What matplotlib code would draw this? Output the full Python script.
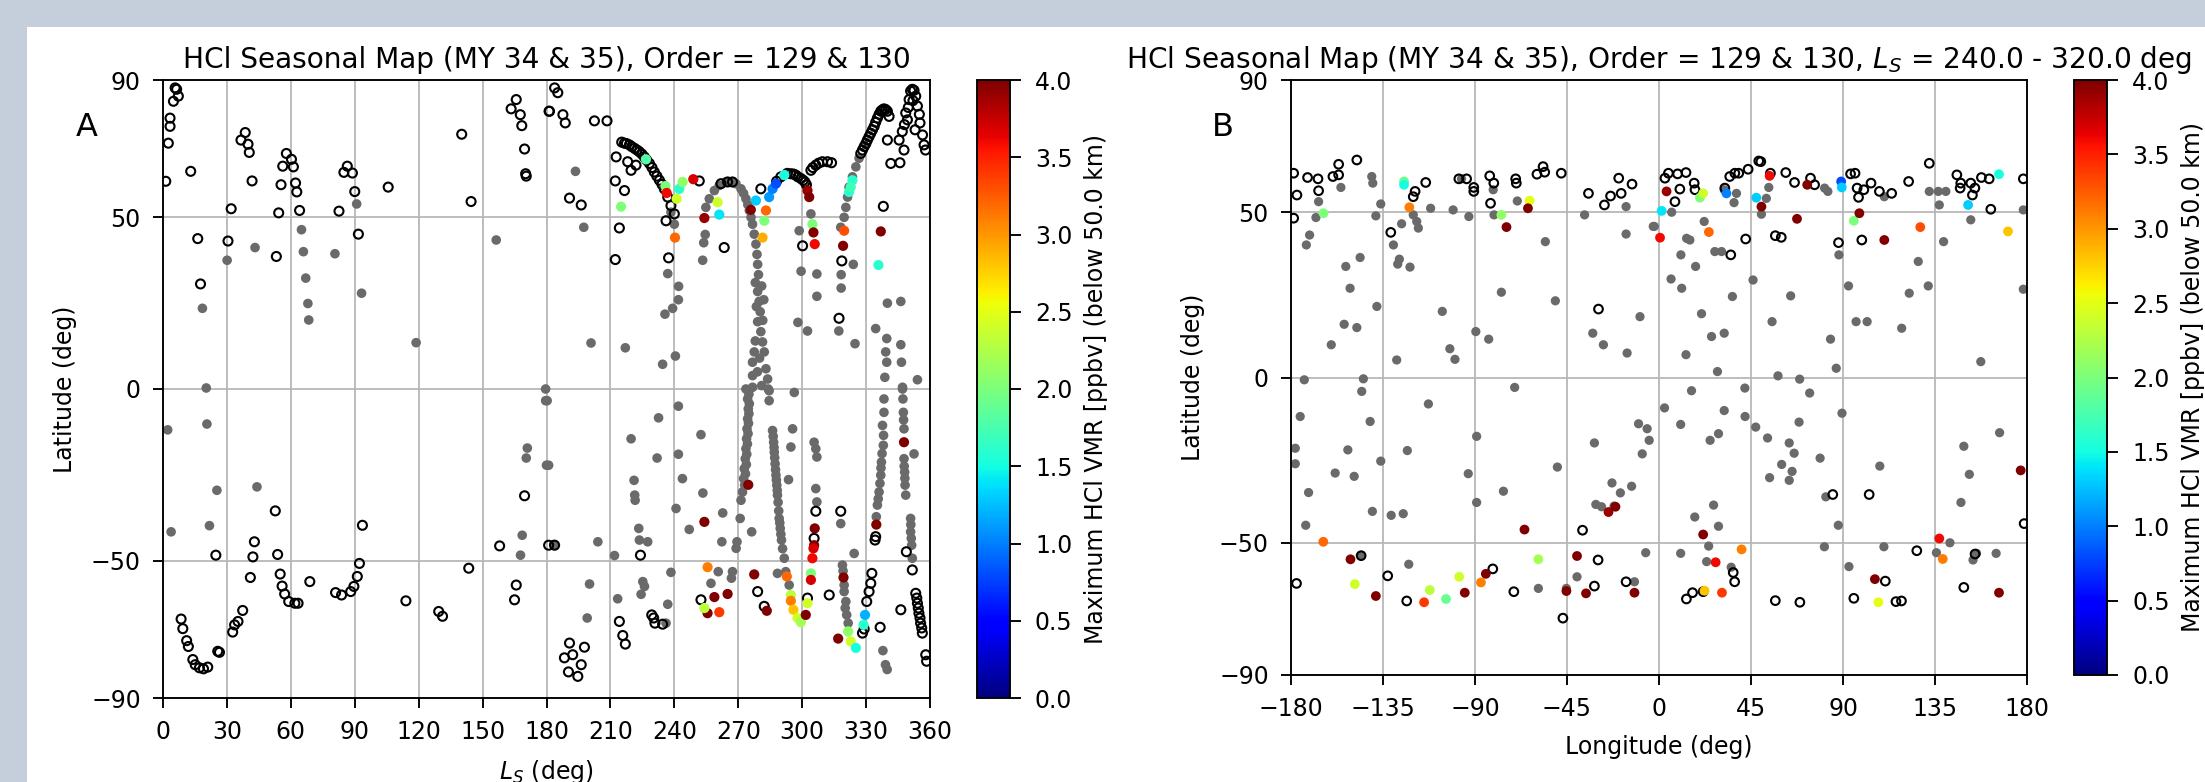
import numpy as np
import matplotlib
matplotlib.use("Agg")
import matplotlib.pyplot as plt
from matplotlib.patches import Rectangle

# ---------------- Panel A data (Ls, latitude) ----------------
a_open = [
    (5.7,87.7),(6.4,87.3),(7.2,85.3),(4.9,83.8),(3.3,78.9),(3.3,76.5),(2.5,71.6),(1.3,60.5),(13.0,63.4),
    (38.6,74.7),(36.6,72.5),(39.9,71.3),(40.5,68.9),(41.8,60.6),(57.9,68.6),(60.3,66.9),(56.2,64.9),
    (61.2,64.7),(55.4,59.5),(62.2,60.0),(62.8,57.4),(54.3,51.3),(64.1,52.0),(32.0,52.5),(16.3,43.8),
    (30.5,43.1),(53.2,38.6),(17.6,30.6),(86.5,64.9),(84.9,63.1),(88.9,62.9),(90.0,57.5),(82.6,51.8),
    (91.7,45.1),(105.7,58.8),(140.2,74.2),(144.6,54.6),(165.8,84.3),(163.4,81.6),(167.7,79.9),(168.4,76.7),
    (169.7,69.9),(170.2,62.7),(170.5,62.0),(181.2,80.9),
    (183.8,87.7),(185.3,86.3),(181.4,80.9),(187.7,79.9),(188.8,77.5),(202.5,78.1),(208.4,78.1),(190.8,55.6),
    (196.3,53.6),(212.7,67.6),(212.3,60.6),(216.6,57.8),(214.2,46.9),(212.3,37.7),(236.1,49.0),(237.3,38.2),
    (263.4,41.2),
    (215.3,71.9),(216.6,71.6),(218.9,71.1),(221.3,70.1),(223.6,69.1),(225.9,67.6),(228.3,65.7),(230.6,63.2),
    (233.0,60.8),(235.3,58.3),(236.9,55.9),(238.4,53.4),(240.0,51.0),(218.1,66.2),(219.7,63.7),(222.0,65.2),
    (251.7,60.6),(217.5,71.5),(220.0,70.6),(222.5,69.6),(224.8,68.4),(227.0,66.7),(229.5,64.5),(231.8,62.0),
    (234.2,59.6),
    (261.9,59.8),(265.0,60.3),(267.3,60.3),(280.6,58.3),
    (288.0,60.5),(290.0,61.8),(294.7,62.7),(297.0,62.3),(299.4,61.3),(301.3,60.3),(293.0,62.8),(296.0,62.6),
    (298.0,61.8),(300.5,60.8),(302.0,59.5),
    (304.1,63.7),(306.4,65.2),(309.5,66.2),(311.9,66.2),(313.8,65.9),(305.0,64.5),(307.8,65.8),
    (300.2,41.7),(318.6,37.3),(317.3,20.6),(338.1,53.2),
    (327.5,68.6),(329.1,70.6),(330.6,72.5),(332.2,74.5),(333.8,76.5),(335.3,78.9),(336.9,80.9),(338.4,81.6),
    (340.0,80.9),(340.8,79.4),(328.3,69.6),(329.9,71.5),(331.4,73.5),(333.0,75.5),(334.5,77.7),(336.1,80.0),
    (337.6,81.3),(339.2,81.4),
    (340.0,72.5),(341.6,65.7),(345.9,65.9),(345.5,72.5),(347.0,75.0),(348.6,80.4),(350.2,84.3),(350.9,86.8),
    (351.7,87.3),(353.3,85.3),(354.1,82.4),(353.0,75.5),(355.3,77.5),(357.2,71.1),(357.9,69.6),(349.4,78.4),
    (347.8,69.6),(352.5,87.0),(349.8,82.0),(355.0,80.0),(356.5,74.0),(352.0,84.0),(348.0,77.0),
    (24.8,-48.4),(52.7,-35.5),(42.9,-44.5),(42.2,-48.9),(41.0,-54.9),(53.8,-48.2),(55.0,-53.9),(55.9,-57.4),
    (57.1,-59.7),(59.0,-61.9),(61.9,-62.4),(63.4,-62.4),(68.9,-56.1),(81.0,-59.3),(83.8,-60.0),(88.1,-59.0),
    (89.6,-57.5),(91.2,-54.6),(92.2,-50.8),(93.6,-39.7),(8.5,-67.0),(9.3,-69.8),(11.1,-73.3),(11.9,-75.0),
    (14.0,-78.8),(15.1,-80.3),(17.1,-81.2),(19.0,-81.5),(21.0,-81.0),(25.7,-76.4),(26.5,-76.7),(32.7,-70.8),
    (33.6,-68.7),(35.2,-67.7),(37.4,-64.5),(114.0,-61.7),(129.4,-64.8),(131.2,-66.2),(143.5,-52.2),
    (158.0,-45.7),(165.8,-57.1),(165.0,-61.4),(169.7,-31.1),(181.0,-45.5),
    (183.8,-45.5),(224.1,-48.4),(214.2,-67.7),(215.8,-71.8),(217.0,-74.3),(229.4,-65.8),(230.3,-66.7),
    (230.9,-68.2),(234.5,-68.5),(252.5,-61.4),(282.2,-63.3),(279.1,-59.0),(302.5,-60.9),(306.4,-35.6),
    (305.6,-43.5),(318.1,-35.6),(312.7,-60.0),(328.3,-71.1),(329.1,-69.9),(330.3,-61.9),(331.4,-59.0),
    (332.2,-56.6),(332.7,-53.7),(336.6,-69.4),(346.3,-64.3),(334.5,-43.0),(334.2,-44.0),(348.9,-47.4),
    (351.7,-52.7),(353.3,-59.5),(353.8,-60.9),(354.1,-62.4),(354.5,-63.8),(354.8,-65.3),(355.3,-66.7),
    (355.6,-68.2),(356.1,-69.6),(356.4,-71.1),(358.0,-77.4),(358.4,-79.3),(190.8,-74.0),(188.4,-78.3),
    (192.3,-77.4),(190.3,-82.4),(194.7,-83.7),(197.8,-75.2),(196.3,-80.3),
]

a_gray = [
    (65.0,46.4),(65.9,40.0),(43.2,41.2),(30.1,37.5),(67.0,32.3),(68.0,24.9),(68.4,20.1),(80.7,39.4),
    (90.9,53.9),(93.2,27.9),(18.5,23.5),(20.3,0.3),(118.8,13.5),(156.4,43.4),(179.6,0.0),
    (193.6,63.4),(197.5,47.1),(200.9,13.4),(217.0,12.0),(234.5,7.2),(240.5,9.6),(235.6,21.8),(239.2,23.5),
    (241.9,26.0),(242.0,29.9),(236.9,33.6),(253.8,42.6),(253.3,37.5),(254.5,45.0),(238.4,51.5),(240.0,48.0),
    (254.8,52.9),(256.4,55.4),(258.8,57.8),(261.1,59.3),(264.2,60.3),(268.9,59.8),(271.3,58.3),(273.6,55.4),
    (275.2,52.0),(276.7,48.0),(277.5,45.1),(278.3,42.2),(278.8,39.2),(279.1,36.3),(279.5,33.3),(266.5,60.2),
    (272.5,57.0),(274.5,53.7),(276.0,50.0),
    (279.1,28.4),(279.8,25.5),(280.3,22.5),(279.1,19.6),(280.6,16.7),(281.4,13.7),(277.5,10.8),(282.2,10.8),
    (276.7,7.8),(283.0,5.9),(276.7,3.9),(283.8,2.9),(276.7,0.5),(284.5,-0.5),(278.0,31.0),(281.0,30.0),
    (282.0,26.0),(278.5,24.0),(281.5,20.0),(278.0,14.0),(280.0,9.0),(279.0,5.0),(281.0,1.0),
    (273.6,0.0),(274.4,-2.9),(274.7,-5.8),(274.4,-8.7),(274.1,-11.6),(273.9,-14.5),(273.6,-17.4),(273.3,-20.3),
    (272.8,-23.2),(272.5,-26.1),(272.0,-30.0),(271.3,-32.4),(269.0,-46.4),(269.4,-44.5),(270.9,-37.7),
    (276.3,-41.6),(284.1,0.0),(284.5,-3.4),(275.0,-1.5),(275.2,-4.3),(275.0,-7.2),(274.8,-10.0),(274.6,-13.0),
    (274.3,-16.0),(274.0,-19.0),(273.8,-22.0),(273.4,-24.7),(273.0,-28.0),
    (295.5,-11.6),(294.7,-16.9),(293.6,-26.4),(296.3,-1.0),
    (286.1,-12.1),(286.6,-15.5),(286.9,-18.4),(287.3,-21.8),(287.7,-25.1),(288.1,-28.0),(288.4,-30.9),
    (289.2,-37.7),(289.7,-40.6),(290.3,-44.0),(291.6,-49.3),(292.3,-53.2),(293.9,-57.1),(288.4,-53.7),
    (286.4,-13.8),(286.8,-17.0),(287.1,-20.0),(287.5,-23.5),(287.9,-26.5),(288.3,-29.5),(288.7,-33.0),
    (289.0,-35.5),(289.5,-39.0),(290.0,-42.3),(290.8,-46.5),
    (306.4,-17.4),(306.9,-19.8),(306.4,-29.0),(306.9,-32.9),(305.6,-15.5),
    (318.1,-39.2),(324.4,-47.9),(318.9,-51.3),(319.7,-59.0),(320.5,-61.9),(320.9,-65.8),(321.6,-68.2),
    (319.7,-57.1),(319.2,-53.0),(320.2,-63.8),
    (338.4,-2.9),(338.4,-6.8),(337.7,-10.6),(338.1,-16.4),(337.2,-21.3),(336.9,-25.1),(336.1,-30.0),
    (335.3,-33.8),(334.8,-37.2),(338.2,-13.5),(337.5,-18.8),(337.0,-23.0),(336.5,-27.5),(335.7,-32.0),
    (337.9,-76.2),(339.1,-80.3),(339.9,-81.7),
    (347.1,0.5),(347.3,-2.9),(347.5,-6.8),(347.8,-11.6),(347.8,-20.3),(348.1,-24.2),(348.3,-28.0),
    (348.6,-30.9),(352.5,-18.9),(347.6,-9.0),(347.9,-22.5),(348.2,-26.0),
    (350.9,-37.7),(350.9,-41.6),(351.4,-45.5),(351.7,-49.3),(351.0,-39.5),(351.2,-43.5),
    (180.3,-3.4),(181.0,-22.2),(183.4,-45.3),(200.2,-56.8),(199.1,-66.7),(204.1,-44.5),(211.9,-48.5),
    (213.4,-61.1),(219.7,-14.5),(231.9,-20.1),(232.6,-8.4),(221.1,-26.6),(221.4,-30.9),(221.6,-32.4),
    (223.3,-40.6),(223.6,-44.0),(227.5,-44.5),(225.2,-56.1),(226.0,-57.5),(224.4,-59.8),(236.9,-62.7),
    (238.4,-53.4),(240.8,-34.8),(241.9,-19.0),(241.9,-5.0),(243.8,-26.1),(247.0,-40.9),(252.5,-13.3),
    (253.4,-30.3),(262.7,-36.1),(262.3,-44.5),(260.6,-53.2),(267.3,-53.2),(266.8,-55.1),(257.2,-56.6),
    (236.1,-68.2),
    (298.0,19.4),(302.5,16.9),(299.5,34.3),(306.9,33.5),(306.9,27.0),(324.0,36.3),(324.8,13.2),(318.3,33.3),
    (318.3,29.4),(317.2,16.9),(340.0,25.0),(346.3,25.5),(334.5,17.6),(339.7,14.7),(339.2,10.8),(339.7,7.8),
    (346.3,12.9),(346.6,7.8),(354.1,2.7),(338.8,3.4),(347.1,0.0),
    (319.7,50.0),(320.5,52.9),(321.3,55.9),(322.0,58.8),(323.6,61.8),(325.2,64.7),(326.7,67.2),(304.1,51.0),
    (298.6,46.1),(318.1,47.1),
    (2.2,-11.9),(20.6,-10.2),(25.3,-29.5),(44.1,-28.5),(3.8,-41.6),(21.8,-39.8),(179.6,-3.4),(171.0,-17.2),
    (170.5,-20.1),(180.0,-22.2),(168.6,-42.6),(167.8,-48.4),
]

# (Ls, latitude, max HCl VMR ppbv)
a_color = [
    (215.0,53.1,2.0),(226.7,66.9,1.8),(235.8,59.1,2.0),(236.4,57.1,3.6),(241.1,55.4,2.4),(242.3,58.3,1.6),
    (243.9,60.3,2.1),(248.9,61.1,3.7),(240.3,44.1,3.2),(254.1,49.8,3.9),(260.3,54.4,2.4),(261.1,50.8,1.4),
    (275.9,52.2,4.0),(278.3,54.9,1.3),(281.4,44.1,2.9),(282.2,49.0,2.0),(283.0,52.0,3.2),(284.5,55.9,1.1),
    (286.1,58.3,1.0),(287.7,59.8,0.8),(291.6,62.3,1.5),(302.5,57.8,3.9),(303.3,55.9,4.0),(304.8,48.0,2.0),
    (305.3,45.6,4.0),(305.9,42.2,3.6),(319.7,46.1,3.3),(319.2,41.7,4.0),(322.0,57.4,1.6),(323.6,60.8,1.6),
    (322.8,58.8,1.7),(336.9,45.9,4.0),(335.8,36.1,1.6),
    (254.1,-38.7,4.0),(255.6,-51.9,3.1),(258.8,-60.6,4.0),(255.6,-65.3,4.0),(261.1,-65.0,3.4),(265.0,-59.7,4.0),
    (254.1,-63.8,2.3),(274.7,-27.9,4.0),(277.5,-54.0,4.0),(283.4,-64.6,4.0),(292.8,-54.6,3.2),(294.7,-60.0,2.3),
    (294.7,-61.7,3.1),(295.9,-64.3,2.8),(297.8,-66.7,2.4),(299.4,-67.9,2.2),(301.7,-65.8,4.0),(302.5,-62.4,2.4),
    (305.9,-40.6,4.0),(305.6,-45.5,4.0),(305.3,-46.4,3.7),(304.8,-49.3,3.6),(304.1,-53.7,2.0),(304.1,-55.6,3.7),
    (319.4,-54.9,4.0),(316.9,-72.7,4.0),(321.6,-70.6,2.1),(322.8,-73.5,2.4),(325.2,-75.4,1.5),(329.5,-65.8,1.2),
    (328.8,-68.7,1.6),(334.8,-39.5,4.0),(347.8,-15.5,4.0),
]

# ---------------- Panel B data (longitude, latitude) ----------------
b_open = [
    (-178.7,61.8),(-177.1,55.2),(-178.7,48.2),(-171.9,60.5),(-166.8,60.1),(-166.5,56.5),(-159.5,60.8),
    (-156.7,64.5),(-156.7,61.3),(-147.8,65.8),(-119.3,56.3),(-120.2,54.7),(-114.1,59.0),(-131.2,43.9),
    (-97.9,60.1),(-94.1,60.1),(-90.6,57.5),(-90.6,56.3),(-82.8,61.0),(-80.8,58.8),(-82.4,52.7),(-70.1,60.1),
    (-69.8,58.8),(-59.7,61.5),(-56.7,63.8),(-55.9,62.1),(-47.8,61.8),(-34.5,55.7),(-26.7,52.2),(-23.7,54.9),
    (-19.7,60.3),(-18.5,55.7),(-13.2,58.5),(-29.6,20.7),
    (2.9,60.3),(4.6,61.8),(9.1,61.6),(13.2,62.0),(10.2,57.0),(7.8,53.2),(17.2,58.8),(17.6,56.8),(32.2,57.3),
    (34.6,60.8),(37.1,61.8),(39.0,61.8),(43.6,63.0),(48.8,65.5),(49.8,65.3),(54.5,61.8),(62.0,62.0),
    (66.3,59.0),(74.1,60.3),(76.1,58.3),(42.4,41.9),(35.1,37.1),(56.9,42.9),(59.8,42.4),(87.8,40.8),
    (99.2,41.6),(93.7,61.6),(95.9,61.8),(96.9,57.3),(100.2,56.8),(97.6,54.5),(103.7,58.8),(107.8,56.3),
    (113.8,55.7),(122.1,59.3),(132.2,64.8),(145.7,61.3),(147.6,58.8),(152.5,58.8),(147.3,57.3),(154.5,57.3),
    (153.3,55.2),(157.7,60.5),(161.5,60.1),(162.3,50.9),(178.2,60.1),
    (-177.3,-62.3),(-145.7,-53.9),(-132.7,-60.0),(-123.4,-67.6),(-81.3,-57.9),(-71.0,-64.8),(-47.0,-72.8),
    (-37.4,-46.2),(-29.8,-55.2),(-31.6,-63.1),(-16.1,-61.8),(13.4,-67.0),(16.4,-65.1),(36.3,-59.0),
    (37.0,-61.8),(56.9,-67.5),(68.9,-68.0),(85.0,-35.4),(102.8,-35.4),(95.3,-66.8),(110.7,-61.6),
    (115.9,-67.8),(118.6,-67.6),(126.1,-52.4),(149.1,-63.5),(154.6,-53.4),(178.6,-44.2),(21.6,-64.8),
]

b_gray = [
    (-155.6,57.5),(-166.5,53.2),(-167.8,48.4),(-170.9,43.1),(-172.5,40.1),(-140.5,60.8),(-140.0,58.8),
    (-136.1,52.5),(-138.5,48.9),(-146.2,36.3),(-153.2,33.6),(-151.1,27.0),(-138.0,21.5),(-154.0,16.1),
    (-147.8,15.1),(-160.3,9.9),(-128.3,5.3),(-125.9,46.5),(-129.9,40.1),(-127.0,35.8),(-127.8,34.3),
    (-121.8,33.4),(-120.2,49.2),(-118.5,47.2),(-117.7,45.2),(-111.7,51.2),(-100.7,50.7),(-93.0,48.7),
    (-96.6,60.1),(-81.1,56.8),(-80.7,49.2),(-69.3,53.4),(-55.6,41.1),(-77.1,25.8),(-50.7,23.2),(-106.0,20.0),
    (-102.3,8.7),(-99.8,5.5),(-89.6,13.9),(-83.3,11.6),(-36.4,49.2),(-16.1,51.7),(-16.1,43.4),(-2.8,45.7),
    (-32.4,13.4),(-27.2,9.9),(-15.6,7.4),(-9.3,18.4),(-173.5,-0.7),(-144.6,-0.4),(-145.4,-4.2),(-70.6,-3.0),
    (-2.3,45.7),(6.2,50.0),(22.1,47.2),(13.5,42.1),(15.1,41.6),(10.7,37.1),(17.9,33.6),(5.9,29.8),(11.1,27.0),
    (27.3,38.1),(30.6,38.1),(35.9,24.5),(20.8,19.3),(25.7,12.4),(31.9,13.4),(13.2,6.9),(28.6,1.8),(15.9,-4.0),
    (46.0,29.5),(42.0,-3.2),(55.3,16.9),(58.2,0.5),(68.8,-0.5),(73.7,-4.7),(64.4,24.7),(83.9,11.6),(86.7,2.8),
    (88.0,37.1),(92.7,27.7),(96.4,16.9),(101.8,16.9),(118.7,14.9),(122.4,25.5),(126.8,35.1),(131.7,27.7),
    (139.2,41.1),(152.5,47.7),(157.4,4.8),(37.9,55.7),(36.7,52.9),(53.7,57.5),(52.5,54.2),(50.1,49.4),
    (81.0,57.3),(82.6,56.3),(110.2,54.7),(132.2,56.3),(136.6,56.3),(140.3,56.3),(137.1,52.2),(178.2,50.7),
    (178.2,26.7),(31.9,56.8),
    (-175.5,-11.8),(-177.9,-21.4),(-177.9,-26.1),(-171.4,-34.8),(-172.8,-44.7),(-158.4,-28.9),(-152.2,-21.9),
    (-149.1,-29.9),(-141.3,-13.3),(-136.1,-25.3),(-140.2,-40.5),(-131.0,-41.7),(-125.1,-41.2),(-123.1,-22.1),
    (-122.4,-56.5),(-112.8,-8.0),(-93.3,-29.1),(-89.2,-17.8),(-89.2,-37.8),(-76.1,-34.4),(-49.7,-27.1),
    (-31.6,-19.8),(-30.9,-38.4),(-28.1,-39.1),(-22.0,-38.9),(-23.0,-31.9),(-18.9,-34.9),(-13.4,-32.9),
    (-10.0,-14.0),(-5.8,-15.5),(-4.8,-19.0),(-8.2,-23.1),(2.7,-9.2),(10.6,-14.2),(25.0,-19.0),(29.1,-17.0),
    (31.9,-10.0),(42.1,-11.8),(47.3,-15.0),(53.1,-18.3),(54.1,-30.3),(60.0,-26.3),(63.7,-19.8),(66.1,-22.9),
    (65.1,-28.4),(63.7,-31.1),(68.5,-13.5),(78.8,-24.4),(81.6,-36.1),(87.7,-44.7),(89.5,-10.8),(108.0,-26.8),
    (149.1,-20.8),(151.8,-29.3),(147.7,-37.8),(166.6,-16.7),(17.5,-42.2),(26.7,-38.6),(29.1,-45.0),
    (24.3,-51.0),(23.3,-55.7),(35.3,-57.4),(80.9,-51.2),(92.9,-57.2),(110.0,-51.2),(135.7,-53.0),
    (142.3,-50.0),(153.6,-55.2),(155.3,-53.2),(164.9,-53.2),(-6.5,-53.0),(10.6,-53.2),(-145.7,-53.9),
    (-59.0,-63.8),(-40.1,-60.3),(-45.3,-63.8),(-12.0,-61.8),
]

# (longitude, latitude, max HCl VMR ppbv)
b_color = [
    (-164.1,49.7,2.0),(-124.7,59.3,1.9),(-124.7,58.3,1.5),(-122.1,51.5,3.1),(-77.1,49.2,2.1),(-74.6,45.5,4.0),
    (-63.3,53.5,2.5),(-64.1,51.2,4.0),
    (1.3,50.4,1.4),(0.5,42.3,3.6),(3.7,56.3,3.9),(20.0,54.4,2.0),(21.6,55.7,2.4),(24.4,44.0,3.2),(33.0,55.7,1.0),
    (47.6,54.4,1.3),(50.1,51.7,4.0),(54.1,61.0,3.6),(67.5,48.0,4.0),(72.5,58.3,4.0),(89.1,59.3,0.8),
    (89.4,57.5,1.3),(95.3,47.4,2.0),(98.0,49.7,4.0),(110.2,41.6,4.0),(127.8,45.5,3.3),(151.2,52.2,1.3),
    (166.3,61.5,1.5),(170.7,44.2,2.8),
    (-164.2,-49.7,3.2),(-150.9,-55.0,4.0),(-148.8,-62.5,2.4),(-138.5,-66.1,4.0),(-114.9,-68.0,3.4),
    (-112.1,-64.3,2.3),(-104.2,-67.0,1.9),(-97.7,-60.3,2.4),(-95.0,-65.1,4.0),(-87.1,-62.0,3.1),
    (-84.7,-59.4,4.0),(-65.8,-46.0,4.0),(-59.0,-55.0,2.2),(-45.3,-64.6,4.0),(-40.1,-54.0,4.0),(-35.7,-65.3,4.0),
    (-24.7,-40.7,3.9),(-21.3,-39.1,4.0),(-12.0,-65.1,4.0),(21.6,-47.5,4.0),(22.3,-64.5,2.8),(27.7,-55.9,3.6),
    (30.8,-65.1,3.4),(40.4,-52.0,3.1),(105.6,-61.0,4.0),(107.3,-68.0,2.5),(137.1,-48.7,3.6),(138.8,-54.9,3.1),
    (166.3,-65.1,4.0),(176.9,-28.1,4.0),
]

ls_ticks = list(range(0, 361, 30))
lon_ticks = list(range(-180, 181, 45))
lat_ticks = [-90, -50, 0, 50, 90]
cb_ticks = [0.0, 0.5, 1.0, 1.5, 2.0, 2.5, 3.0, 3.5, 4.0]

title_a = "HCl Seasonal Map (MY 34 & 35), Order = 129 & 130"
title_b = "HCl Seasonal Map (MY 34 & 35), Order = 129 & 130, $L_S$ = 240.0 - 320.0 deg"
cb_label = "Maximum HCl VMR [ppbv] (below 50.0 km)"

# ---------------- Figure ----------------
W, H = 2205, 782
fig = plt.figure(figsize=(W / 100, H / 100), dpi=100, facecolor="#c5cedb")
fig.patches.append(Rectangle((27 / W, 0), 1, (H - 27) / H, transform=fig.transFigure,
                             facecolor="white", edgecolor="none", zorder=-1))

FS = 17
LW = 1.36

def fx(px):
    return px / W

def fy(px):
    return 1 - px / H

axA = fig.add_axes([fx(163), fy(698), fx(930) - fx(163), fy(80) - fy(698)])
caxA = fig.add_axes([fx(977), fy(698), fx(1010) - fx(977), fy(80) - fy(698)])
axB = fig.add_axes([fx(1291), fy(675), fx(2027) - fx(1291), fy(80) - fy(675)])
caxB = fig.add_axes([fx(2074), fy(675), fx(2107) - fx(2074), fy(80) - fy(675)])


def draw_panel(ax, cax, opens, grays, colors, xlim, xticks, title, xlabel, s_scale=1.0):
    ax.set_axisbelow(True)
    ax.grid(True, color="#b8b8b8", linewidth=1.3)
    o = np.array(opens)
    g = np.array(grays)
    c = np.array(colors)
    ax.scatter(g[:, 0], g[:, 1], s=48 * s_scale, c="#6a6a6a", edgecolors="none", zorder=2)
    ax.scatter(o[:, 0], o[:, 1], s=42 * s_scale, facecolors="none", edgecolors="black",
               linewidths=1.5, zorder=3)
    sc = ax.scatter(c[:, 0], c[:, 1], s=54 * s_scale, c=c[:, 2], cmap="jet", vmin=0, vmax=4,
                    edgecolors="none", zorder=4)
    ax.set_xlim(*xlim)
    ax.set_ylim(-90, 90)
    ax.set_xticks(xticks)
    ax.set_yticks(lat_ticks)
    ax.tick_params(labelsize=FS, length=7, width=LW, pad=9)
    for sp in ax.spines.values():
        sp.set_linewidth(LW)
    ax.set_title(title, fontsize=20.2, pad=9)
    ax.set_xlabel(xlabel, fontsize=FS, labelpad=10)
    ax.set_ylabel("Latitude (deg)", fontsize=FS, labelpad=10)
    cb = fig.colorbar(sc, cax=cax)
    cb.set_ticks(cb_ticks)
    cb.set_ticklabels([f"{t:.1f}" for t in cb_ticks])
    cb.ax.tick_params(labelsize=FS, length=8, width=LW, pad=10)
    cb.outline.set_linewidth(LW)
    cb.set_label(cb_label, fontsize=FS, labelpad=8)


draw_panel(axA, caxA, a_open, a_gray, a_color, (0, 360), ls_ticks, title_a, "$L_S$ (deg)")
draw_panel(axB, caxB, b_open, b_gray, b_color, (-180, 180), lon_ticks, title_b, "Longitude (deg)",
           s_scale=0.92)

fig.text(fx(87), fy(127), "A", fontsize=23, ha="center", va="center")
fig.text(fx(1223), fy(127), "B", fontsize=23, ha="center", va="center")

fig.savefig("out.png", dpi=100, facecolor=fig.get_facecolor())
